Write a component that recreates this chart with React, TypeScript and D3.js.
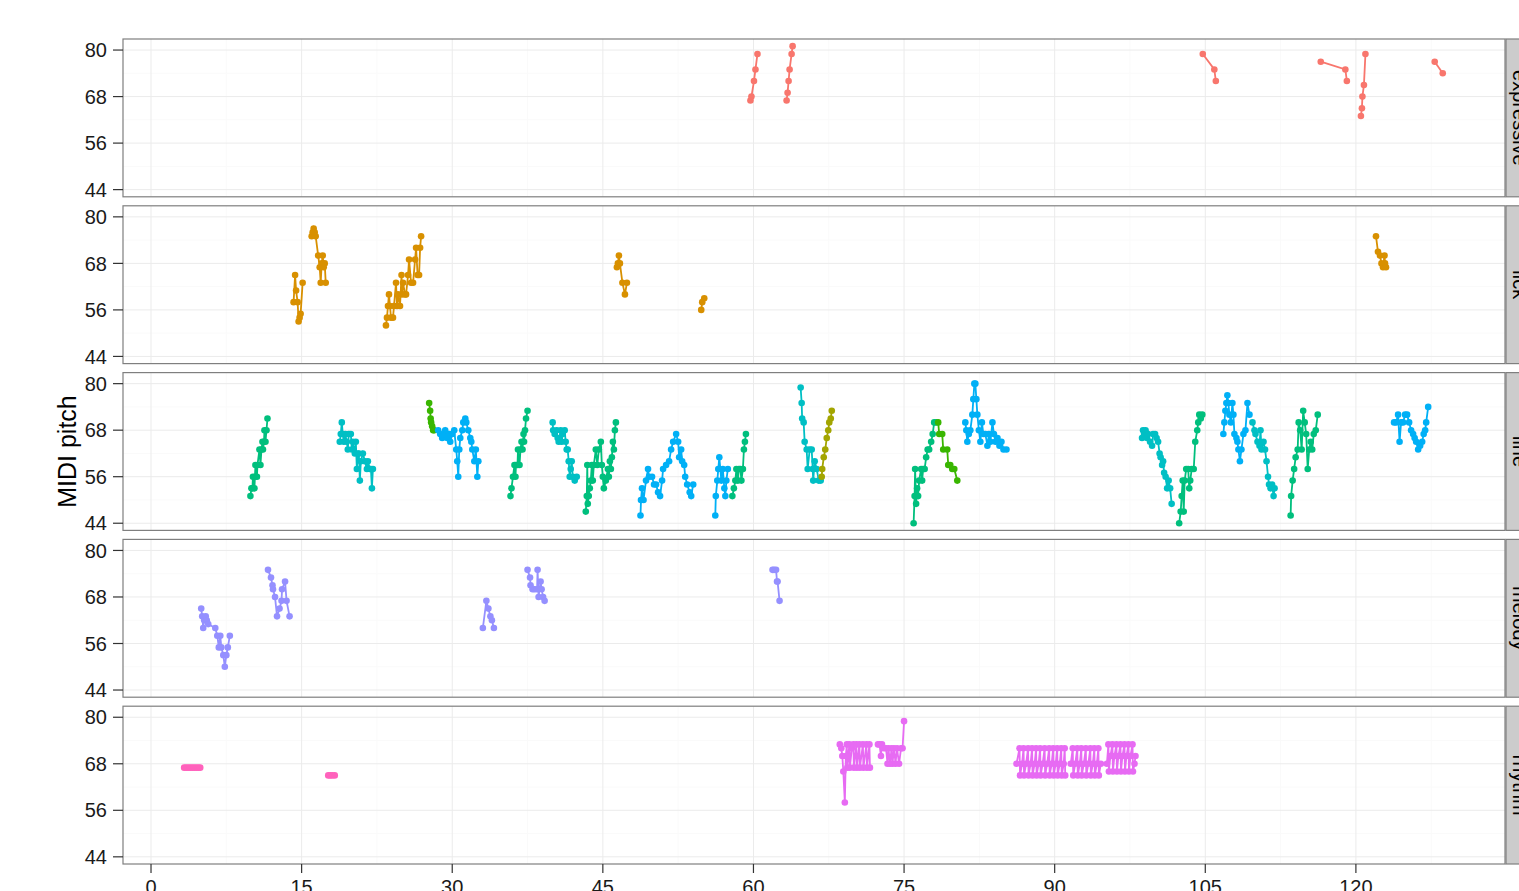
import { useRef, useEffect } from 'react';
import * as d3 from 'd3';

// MIDI pitch by time, faceted by phrase type (ggplot-like, theme_bw)

type Note = [number, number];
interface Phrase {
  col: string;
  notes: Note[];
}

const RED = '#F8766D';
const ORANGE = '#D89000';
const OLIVE = '#A3A500';
const GREEN = '#39B600';
const SEA = '#00BF7D';
const TEAL = '#00BFC4';
const BLUE = '#00B0F6';
const PURPLE = '#9590FF';
const MAGENTA = '#E76BF3';
const PINK = '#FF62BC';

const facetNames = ['expressive', 'lick', 'line', 'melody', 'rhythm'];
const xTicks = [0, 15, 30, 45, 60, 75, 90, 105, 120];
const xMinor = [7.5, 22.5, 37.5, 52.5, 67.5, 82.5, 97.5, 112.5, 127.5];
const yTicks = [44, 56, 68, 80];
const yMinor = [50, 62, 74];

const expressive: Phrase[] = [
  { col: RED, notes: [[59.7, 67], [59.8, 68], [60.05, 72], [60.2, 75], [60.4, 79]] },
  { col: RED, notes: [[63.3, 67], [63.4, 69], [63.5, 72], [63.6, 75], [63.8, 79], [63.9, 81]] },
  { col: RED, notes: [[104.75, 79], [105.9, 75], [106.05, 72]] },
  { col: RED, notes: [[116.5, 77], [118.95, 75], [119.1, 72]] },
  { col: RED, notes: [[120.5, 63], [120.6, 65], [120.65, 68], [120.8, 71], [120.95, 79]] },
  { col: RED, notes: [[127.85, 77], [128.65, 74]] },
];

const lick: Phrase[] = [
  { col: ORANGE, notes: [[14.2, 58], [14.35, 65], [14.45, 61], [14.6, 58], [14.7, 53], [14.8, 54], [14.9, 55], [15.1, 63]] },
  { col: ORANGE, notes: [[16.0, 75], [16.1, 76], [16.2, 77], [16.3, 76], [16.4, 75], [16.65, 70], [16.8, 67], [16.9, 63], [17.0, 68], [17.1, 70], [17.2, 67], [17.3, 68], [17.4, 63]] },
  { col: ORANGE, notes: [[23.4, 52], [23.5, 54], [23.6, 57], [23.7, 60], [23.8, 57], [23.9, 54], [24.1, 54], [24.2, 57], [24.4, 63], [24.5, 57], [24.6, 60], [24.8, 57], [24.95, 65], [25.0, 60], [25.1, 63], [25.3, 60], [25.4, 60], [25.6, 65], [25.7, 69], [25.9, 63], [26.1, 63], [26.3, 69], [26.4, 72], [26.55, 65], [26.7, 65], [26.8, 72], [26.9, 75]] },
  { col: ORANGE, notes: [[46.4, 67], [46.5, 68], [46.6, 70], [46.7, 68], [46.95, 63], [47.2, 60], [47.4, 63]] },
  { col: ORANGE, notes: [[54.8, 56], [54.9, 58], [55.1, 59]] },
  { col: ORANGE, notes: [[122.0, 75], [122.2, 71], [122.4, 70], [122.55, 68], [122.7, 67], [122.85, 70], [122.9, 68], [123.0, 67]] },
];

const line: Phrase[] = [
  { col: SEA, notes: [[9.9, 51], [10.0, 53], [10.1, 53], [10.15, 56], [10.3, 53], [10.35, 56], [10.4, 59], [10.55, 56], [10.6, 59], [10.8, 63], [10.9, 59], [11.0, 63], [11.1, 65], [11.15, 63], [11.25, 65], [11.3, 68], [11.4, 65], [11.5, 68], [11.6, 71]] },
  { col: TEAL, notes: [[18.8, 65], [18.9, 67], [19.0, 70], [19.1, 67], [19.2, 65], [19.35, 67], [19.5, 65], [19.6, 63], [19.7, 67], [19.9, 67], [20.0, 63], [20.1, 65], [20.3, 62], [20.4, 65], [20.5, 58], [20.6, 62], [20.7, 62], [20.8, 55], [20.9, 60], [21.1, 62], [21.3, 60], [21.5, 58], [21.6, 60], [21.8, 58], [21.9, 58], [22.0, 53], [22.1, 58]] },
  { col: GREEN, notes: [[27.7, 75], [27.8, 73], [27.85, 71], [27.9, 70], [28.0, 69], [28.1, 68], [28.2, 68]] },
  { col: BLUE, notes: [[28.6, 68], [28.8, 67], [29.0, 66], [29.2, 67], [29.3, 68], [29.5, 66], [29.7, 67], [29.8, 65], [30.0, 67], [30.2, 68], [30.4, 63], [30.5, 60], [30.6, 56], [30.7, 63], [30.8, 66], [31.0, 68], [31.1, 70], [31.3, 71], [31.4, 70], [31.6, 68], [31.8, 66], [31.9, 65], [32.0, 63], [32.2, 60], [32.35, 63], [32.5, 56], [32.6, 60]] },
  { col: SEA, notes: [[35.8, 51], [35.9, 53], [36.05, 56], [36.2, 59], [36.3, 56], [36.35, 59], [36.5, 59], [36.55, 63], [36.7, 59], [36.8, 63], [36.9, 65], [37.0, 63], [37.1, 67], [37.15, 65], [37.25, 68], [37.35, 71], [37.5, 73]] },
  { col: TEAL, notes: [[40.0, 70], [40.05, 68], [40.2, 67], [40.4, 68], [40.5, 66], [40.6, 65], [40.8, 68], [40.9, 65], [41.0, 67], [41.2, 68], [41.3, 65], [41.4, 63], [41.5, 63], [41.6, 60], [41.7, 56], [41.8, 58], [41.9, 60], [42.0, 56], [42.2, 55], [42.4, 56]] },
  { col: SEA, notes: [[43.3, 47], [43.4, 51], [43.45, 59], [43.5, 49], [43.6, 51], [43.7, 53], [43.8, 55], [43.9, 59], [44.0, 55], [44.1, 59], [44.3, 63], [44.45, 59], [44.6, 63], [44.8, 65], [44.9, 59], [45.0, 56], [45.1, 53], [45.3, 55], [45.5, 58], [45.6, 56], [45.7, 60], [45.8, 58], [45.9, 61], [46.0, 65], [46.1, 63], [46.2, 68], [46.3, 70]] },
  { col: BLUE, notes: [[48.75, 46], [48.8, 50], [48.9, 53], [49.05, 50], [49.3, 55], [49.5, 58], [49.6, 56], [49.9, 56], [50.1, 54], [50.3, 54], [50.5, 52], [50.7, 51], [50.9, 55], [51.0, 58], [51.3, 59], [51.6, 60], [51.8, 63], [52.0, 65], [52.3, 67], [52.5, 65], [52.6, 61], [52.8, 63], [52.9, 60], [53.1, 59], [53.2, 56], [53.4, 54], [53.65, 52], [53.8, 51], [54.0, 54]] },
  { col: BLUE, notes: [[56.2, 46], [56.25, 51], [56.4, 55], [56.5, 58], [56.6, 61], [56.8, 55], [56.95, 58], [57.1, 53], [57.2, 51], [57.3, 55], [57.45, 58]] },
  { col: SEA, notes: [[57.9, 51], [58.05, 53], [58.2, 55], [58.3, 58], [58.45, 55], [58.55, 58], [58.7, 58], [58.8, 55], [58.95, 58], [59.05, 63], [59.15, 65], [59.25, 67]] },
  { col: TEAL, notes: [[64.7, 79], [64.8, 75], [64.85, 71], [65.0, 70], [65.1, 65], [65.3, 63], [65.4, 58], [65.6, 63], [65.8, 63], [65.9, 58], [65.95, 55], [66.1, 60], [66.3, 58], [66.5, 55], [66.7, 55]] },
  { col: OLIVE, notes: [[66.8, 56], [66.85, 58], [67.0, 61], [67.15, 63], [67.3, 66], [67.45, 68], [67.55, 70], [67.7, 71], [67.8, 73]] },
  { col: SEA, notes: [[75.95, 44], [76.05, 51], [76.1, 58], [76.2, 49], [76.3, 53], [76.4, 51], [76.5, 55], [76.7, 58], [76.8, 55], [76.9, 58], [77.05, 58], [77.2, 61], [77.35, 63], [77.5, 63], [77.7, 65], [77.85, 67], [78.0, 70], [78.2, 70]] },
  { col: GREEN, notes: [[78.4, 70], [78.5, 67], [78.8, 67], [78.9, 63], [79.3, 63], [79.4, 59], [79.6, 59], [79.8, 58], [80.0, 58], [80.3, 55]] },
  { col: BLUE, notes: [[81.1, 70], [81.2, 68], [81.3, 65], [81.45, 67], [81.6, 68], [81.8, 72], [81.9, 76], [82.0, 80], [82.1, 80], [82.2, 76], [82.3, 72], [82.45, 68], [82.6, 65], [82.75, 70], [82.9, 67], [83.1, 67], [83.3, 64], [83.45, 67], [83.6, 65], [83.8, 70], [83.95, 67], [84.1, 65], [84.3, 66], [84.5, 64], [84.7, 65], [84.9, 63], [85.2, 63]] },
  { col: TEAL, notes: [[98.7, 66], [98.8, 68], [98.9, 67], [99.05, 68], [99.2, 66], [99.3, 67], [99.5, 65], [99.7, 64], [99.8, 67], [100.0, 67], [100.15, 66], [100.3, 65], [100.45, 62], [100.55, 61], [100.7, 59], [100.8, 60], [100.9, 57], [101.05, 56], [101.2, 53], [101.35, 55], [101.5, 53], [101.65, 49]] },
  { col: SEA, notes: [[102.4, 44], [102.55, 47], [102.65, 51], [102.75, 55], [102.85, 47], [102.95, 55], [103.1, 58], [103.3, 58], [103.4, 53], [103.5, 55], [103.65, 58], [103.85, 58], [104.0, 65], [104.2, 68], [104.3, 70], [104.4, 72], [104.55, 71], [104.7, 72]] },
  { col: BLUE, notes: [[106.8, 67], [106.9, 70], [107.0, 73], [107.1, 75], [107.2, 77], [107.3, 75], [107.4, 72], [107.55, 70], [107.7, 75], [107.8, 72], [107.9, 67], [108.1, 66], [108.2, 65], [108.3, 63], [108.45, 60], [108.6, 63], [108.8, 67], [109.0, 68], [109.2, 75], [109.4, 72]] },
  { col: TEAL, notes: [[109.7, 70], [109.9, 68], [110.0, 67], [110.2, 65], [110.4, 64], [110.5, 68], [110.6, 63], [110.8, 65], [110.95, 63], [111.1, 60], [111.25, 56], [111.35, 54], [111.5, 53], [111.65, 54], [111.8, 51], [111.9, 53]] },
  { col: SEA, notes: [[113.5, 46], [113.55, 51], [113.7, 55], [113.85, 58], [114.0, 61], [114.2, 63], [114.3, 70], [114.45, 68], [114.6, 63], [114.75, 73], [114.9, 70], [115.05, 67], [115.2, 58], [115.35, 63], [115.5, 65], [115.65, 63], [115.8, 67], [116.0, 68], [116.2, 72]] },
  { col: BLUE, notes: [[123.8, 70], [124.0, 70], [124.2, 72], [124.35, 65], [124.5, 70], [124.7, 70], [124.9, 72], [125.1, 72], [125.3, 70], [125.5, 68], [125.7, 67], [125.85, 66], [126.0, 65], [126.2, 63], [126.4, 64], [126.6, 65], [126.75, 67], [126.9, 68], [127.0, 70], [127.2, 74]] },
];

const melody: Phrase[] = [
  { col: PURPLE, notes: [[5.0, 65], [5.1, 63], [5.2, 60], [5.3, 62], [5.45, 63], [5.55, 62], [5.7, 61], [6.4, 60], [6.6, 58], [6.75, 55], [6.9, 58], [7.0, 55], [7.2, 53], [7.35, 50], [7.5, 53], [7.65, 55], [7.85, 58]] },
  { col: PURPLE, notes: [[11.65, 75], [11.95, 73], [12.1, 71], [12.15, 70], [12.35, 68], [12.55, 63], [12.8, 65], [13.0, 67], [13.05, 70], [13.35, 72], [13.5, 67], [13.8, 63]] },
  { col: PURPLE, notes: [[33.05, 60], [33.4, 67], [33.6, 65], [33.8, 63], [33.95, 62], [34.15, 60]] },
  { col: PURPLE, notes: [[37.5, 75], [37.75, 73], [37.8, 71], [38.0, 70], [38.2, 70], [38.45, 70], [38.5, 75], [38.6, 68], [38.8, 72], [38.9, 70], [39.05, 68], [39.2, 67]] },
  { col: PURPLE, notes: [[61.9, 75], [62.05, 75], [62.25, 75], [62.35, 72], [62.4, 72], [62.6, 67]] },
];

const rhythm: Phrase[] = [
  { col: PINK, notes: [[3.3, 67], [3.5, 67], [3.7, 67], [3.9, 67], [4.1, 67], [4.3, 67], [4.5, 67], [4.7, 67], [4.9, 67]] },
  { col: PINK, notes: [[17.65, 65], [17.85, 65], [18.05, 65], [18.3, 65]] },
  { col: MAGENTA, notes: [[68.6, 73], [68.75, 72], [68.85, 70], [68.95, 66], [69.1, 58], [69.2, 70], [69.3, 73], [69.35, 67], [69.55, 73], [69.6, 67], [69.8, 72], [69.95, 73], [70.0, 67], [70.25, 73], [70.3, 67], [70.55, 73], [70.6, 67], [70.9, 73], [70.95, 67], [71.25, 73], [71.3, 67], [71.55, 73], [71.6, 67]] },
  { col: MAGENTA, notes: [[72.4, 73], [72.55, 73], [72.7, 70], [72.8, 73], [73.0, 72], [73.2, 72], [73.35, 68], [73.45, 72], [73.6, 68], [73.75, 72], [73.85, 68], [74.0, 72], [74.15, 68], [74.3, 72], [74.5, 68], [74.7, 72], [74.85, 72], [75.0, 79]] },
  { col: MAGENTA, notes: [[86.2, 68], [86.5, 72], [86.55, 65], [86.75, 68], [86.9, 72], [86.95, 65], [87.15, 68], [87.35, 72], [87.4, 65], [87.6, 68], [87.75, 72], [87.8, 65], [88.0, 68], [88.15, 72], [88.2, 65], [88.4, 68], [88.55, 72], [88.6, 65], [88.8, 68], [89.0, 72], [89.05, 65], [89.25, 68], [89.45, 72], [89.5, 65], [89.7, 68], [89.85, 72], [89.9, 65], [90.1, 68], [90.25, 72], [90.3, 65], [90.5, 68], [90.65, 72], [90.7, 65], [90.9, 68], [91.0, 72], [91.05, 65]] },
  { col: MAGENTA, notes: [[91.6, 68], [91.8, 72], [91.85, 65], [92.05, 68], [92.25, 72], [92.3, 65], [92.5, 68], [92.65, 72], [92.7, 65], [92.9, 68], [93.1, 72], [93.15, 65], [93.35, 68], [93.55, 72], [93.6, 65], [93.8, 68], [93.95, 72], [94.0, 65], [94.2, 68], [94.35, 72], [94.4, 65], [94.6, 68]] },
  { col: MAGENTA, notes: [[95.2, 68], [95.35, 73], [95.4, 66], [95.55, 70], [95.75, 73], [95.8, 66], [95.95, 70], [96.15, 73], [96.2, 66], [96.35, 70], [96.55, 73], [96.6, 66], [96.75, 70], [96.95, 73], [97.0, 66], [97.15, 70], [97.35, 73], [97.4, 66], [97.55, 70], [97.75, 73], [97.8, 66], [97.95, 68], [98.05, 70]] },
];

const facetData = [expressive, lick, line, melody, rhythm];

const W = 1519;
const H = 891;
const panelLeft = 123;
const panelRight = 1505;
const panelTop = 39;
const panelStep = 166.8;
const panelH = 157.8;
const FONT = '"Liberation Sans", Arial, Helvetica, sans-serif';

export default function App() {
  const svgRef = useRef<SVGSVGElement>(null);

  useEffect(() => {
    if (!svgRef.current) return;
    const svg = d3.select(svgRef.current);
    svg.selectAll('*').remove();

    const x = d3.scaleLinear().domain([-2.79, 134.85]).range([panelLeft, panelRight]);
    const y = d3.scaleLinear().domain([42.15, 82.85]).range([panelH, 0]);

    svg.append('rect').attr('width', W).attr('height', H).attr('fill', '#ffffff');

    facetData.forEach((phrases, i) => {
      const top = panelTop + i * panelStep;
      const g = svg.append('g').attr('transform', `translate(0,${top})`);

      g.append('rect')
        .attr('x', panelLeft)
        .attr('y', 0)
        .attr('width', panelRight - panelLeft)
        .attr('height', panelH)
        .attr('fill', '#ffffff');

      // minor grid
      xMinor.forEach((v) => {
        g.append('line')
          .attr('x1', x(v)).attr('x2', x(v))
          .attr('y1', 0).attr('y2', panelH)
          .attr('stroke', '#fafafa').attr('stroke-width', 1);
      });
      yMinor.forEach((v) => {
        g.append('line')
          .attr('x1', panelLeft).attr('x2', panelRight)
          .attr('y1', y(v)).attr('y2', y(v))
          .attr('stroke', '#fafafa').attr('stroke-width', 1);
      });
      // major grid
      xTicks.forEach((v) => {
        g.append('line')
          .attr('x1', x(v)).attr('x2', x(v))
          .attr('y1', 0).attr('y2', panelH)
          .attr('stroke', '#ebebeb').attr('stroke-width', 1);
      });
      yTicks.forEach((v) => {
        g.append('line')
          .attr('x1', panelLeft).attr('x2', panelRight)
          .attr('y1', y(v)).attr('y2', y(v))
          .attr('stroke', '#ebebeb').attr('stroke-width', 1);
      });

      const lineGen = d3
        .line<Note>()
        .x((d) => x(d[0]))
        .y((d) => y(d[1]));

      phrases.forEach((ph) => {
        const sorted = [...ph.notes].sort((a, b) => a[0] - b[0]);
        g.append('path')
          .attr('d', lineGen(sorted) || '')
          .attr('fill', 'none')
          .attr('stroke', ph.col)
          .attr('stroke-width', 1.8);
        g.selectAll(null)
          .data(sorted)
          .join('circle')
          .attr('cx', (d) => x(d[0]))
          .attr('cy', (d) => y(d[1]))
          .attr('r', 3.3)
          .attr('fill', ph.col);
      });

      g.append('rect')
        .attr('x', panelLeft)
        .attr('y', 0)
        .attr('width', panelRight - panelLeft)
        .attr('height', panelH)
        .attr('fill', 'none')
        .attr('stroke', '#7f7f7f')
        .attr('stroke-width', 1.2);

      // y axis
      yTicks.forEach((v) => {
        g.append('line')
          .attr('x1', panelLeft - 10).attr('x2', panelLeft)
          .attr('y1', y(v)).attr('y2', y(v))
          .attr('stroke', '#333333').attr('stroke-width', 1.2);
        g.append('text')
          .attr('x', panelLeft - 16)
          .attr('y', y(v))
          .attr('dy', '0.36em')
          .attr('text-anchor', 'end')
          .attr('font-family', FONT)
          .attr('font-size', 20)
          .attr('fill', '#1a1a1a')
          .text(String(v));
      });

      // strip (cut by the right edge, as in the original)
      g.append('rect')
        .attr('x', panelRight + 1)
        .attr('y', 0)
        .attr('width', 32)
        .attr('height', panelH)
        .attr('fill', '#cccccc')
        .attr('stroke', '#7f7f7f')
        .attr('stroke-width', 1.2);
      g.append('text')
        .attr('transform', `translate(${panelRight + 8},${panelH / 2}) rotate(90)`)
        .attr('text-anchor', 'middle')
        .attr('font-family', FONT)
        .attr('font-size', 20)
        .attr('fill', '#000000')
        .text(facetNames[i]);
    });

    // x axis under last panel
    const bottom = panelTop + 4 * panelStep + panelH;
    xTicks.forEach((v) => {
      svg.append('line')
        .attr('x1', x(v)).attr('x2', x(v))
        .attr('y1', bottom).attr('y2', bottom + 9)
        .attr('stroke', '#333333').attr('stroke-width', 1.2);
      svg.append('text')
        .attr('x', x(v))
        .attr('y', bottom + 30)
        .attr('text-anchor', 'middle')
        .attr('font-family', FONT)
        .attr('font-size', 20)
        .attr('fill', '#1a1a1a')
        .text(String(v));
    });

    // y axis title
    const midY = panelTop + (4 * panelStep + panelH) / 2;
    svg.append('text')
      .attr('transform', `translate(76,${midY}) rotate(-90)`)
      .attr('text-anchor', 'middle')
      .attr('font-family', FONT)
      .attr('font-size', 25)
      .attr('fill', '#000000')
      .text('MIDI pitch');
  }, []);

  return (
    <div style={{ position: 'absolute', left: 0, top: 0 }}>
      <svg ref={svgRef} width={W} height={H} style={{ display: 'block' }} />
    </div>
  );
}
